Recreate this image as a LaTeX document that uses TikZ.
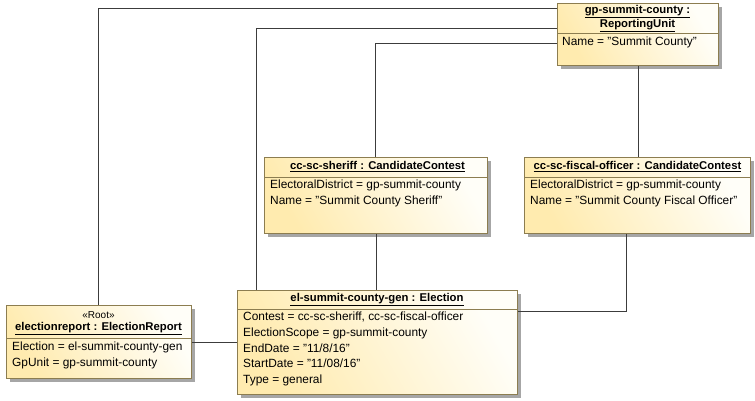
\documentclass[tikz,border=0pt]{standalone}
\usepackage{fontspec}
\setmainfont{Liberation Sans}
\usepackage{tikz}
\usetikzlibrary{positioning,shadows,calc}
\usepackage{xcolor}
\definecolor{objborder}{RGB}{140,125,80}
\definecolor{objyellow}{RGB}{255,235,175}
\definecolor{objwhite}{RGB}{255,254,248}
\definecolor{linkgray}{RGB}{60,60,60}
\tikzstyle{objbox} = [rectangle, draw=objborder, line width=1pt, left color=objyellow, right color=objwhite, shading angle=120, drop shadow={shadow xshift=3pt, shadow yshift=-3pt, fill=black!35, opacity=1}, anchor=north west, inner sep=0pt]
\tikzstyle{objtitle} = [inner sep=0pt, font=\fontsize{11.3}{14}\selectfont\bfseries, align=center]
\tikzstyle{objattr} = [inner sep=0pt, anchor=north west, align=left]
\tikzstyle{divider} = [draw=objborder, line width=1pt]
\tikzstyle{link} = [draw=linkgray, line width=1pt]

\begin{document}
\begin{tikzpicture}[x=1pt, y=-1pt, font=\fontsize{11.9}{15.6}\selectfont]
\useasboundingbox (0,0) rectangle (755,400);
% links behind the objects
\coordinate (ertop) at (98.5,305);
\coordinate (eltop) at (256,290);
\coordinate (shtop) at (375.5,157);
\coordinate (rutop) at (557,3);
\draw[link] (ertop) |- ([yshift=-5pt]rutop);
\draw[link] (eltop) |- ([yshift=-25pt]rutop);
\draw[link] (shtop) |- ([yshift=-40pt]rutop);

% reporting unit
\node[objbox, minimum width=161pt, minimum height=62pt] (ru) at (557,3) {};
\node[objtitle] (rutitle) at (637.5,18.5) {\underline{gp-summit-county :}\\[-0.5pt]\underline{ReportingUnit}};
\draw[divider] (557,33) -- (718,33);
\node[objattr] (ruattr) at (562,37) {Name = "Summit County"};

% sheriff contest
\node[objbox, minimum width=223pt, minimum height=76pt] (sh) at (264,157) {};
\node[objtitle] (shtitle) at (377.5,166.5) {\underline{cc-sc-sheriff : CandidateContest}};
\draw[divider] (264,177) -- (487,177);
\node[objattr] (shattr) at (270,180) {ElectoralDistrict = gp-summit-county\\Name = "Summit County Sheriff"};

% fiscal officer contest
\node[objbox, minimum width=226pt, minimum height=76pt] (fo) at (524,157) {};
\node[objtitle] (fotitle) at (637.5,166.5) {\underline{cc-sc-fiscal-officer : CandidateContest}};
\draw[divider] (524,177) -- (750,177);
\node[objattr] (foattr) at (530,180) {ElectoralDistrict = gp-summit-county\\Name = "Summit County Fiscal Officer"};

% election report
\node[objbox, minimum width=185pt, minimum height=73pt] (er) at (6,305) {};
\node[objtitle] (erstereo) at (98.5,315) {\fontsize{10}{11}\selectfont\mdseries «Root»};
\node[objtitle] (ertitle) at (98.5,329) {\underline{electionreport : ElectionReport}};
\draw[divider] (6,338) -- (191,338);
\node[objattr] (erattr) at (12,342) {Election = el-summit-county-gen\\GpUnit = gp-summit-county};

% election
\node[objbox, minimum width=280pt, minimum height=104pt] (el) at (237,290) {};
\node[objtitle] (eltitle) at (377,299.5) {\underline{el-summit-county-gen : Election}};
\draw[divider] (237,309) -- (517,309);
\node[objattr] (elattr) at (243,312) {Contest = cc-sc-sheriff, cc-sc-fiscal-officer\\ElectionScope = gp-summit-county\\EndDate = "11/8/16"\\StartDate = "11/08/16"\\Type = general};

% remaining links
\draw[link] (ru.south) -- (ru.south |- fo.north);
\draw[link] (sh.south) -- (sh.south |- el.north);
\draw[link] ([xshift=-11pt]fo.south) |- ([yshift=-21pt]el.north east);
\coordinate (erlink) at ([yshift=-37pt]er.north east);
\draw[link] (erlink) -- (erlink -| el.west);
\end{tikzpicture}
\end{document}
